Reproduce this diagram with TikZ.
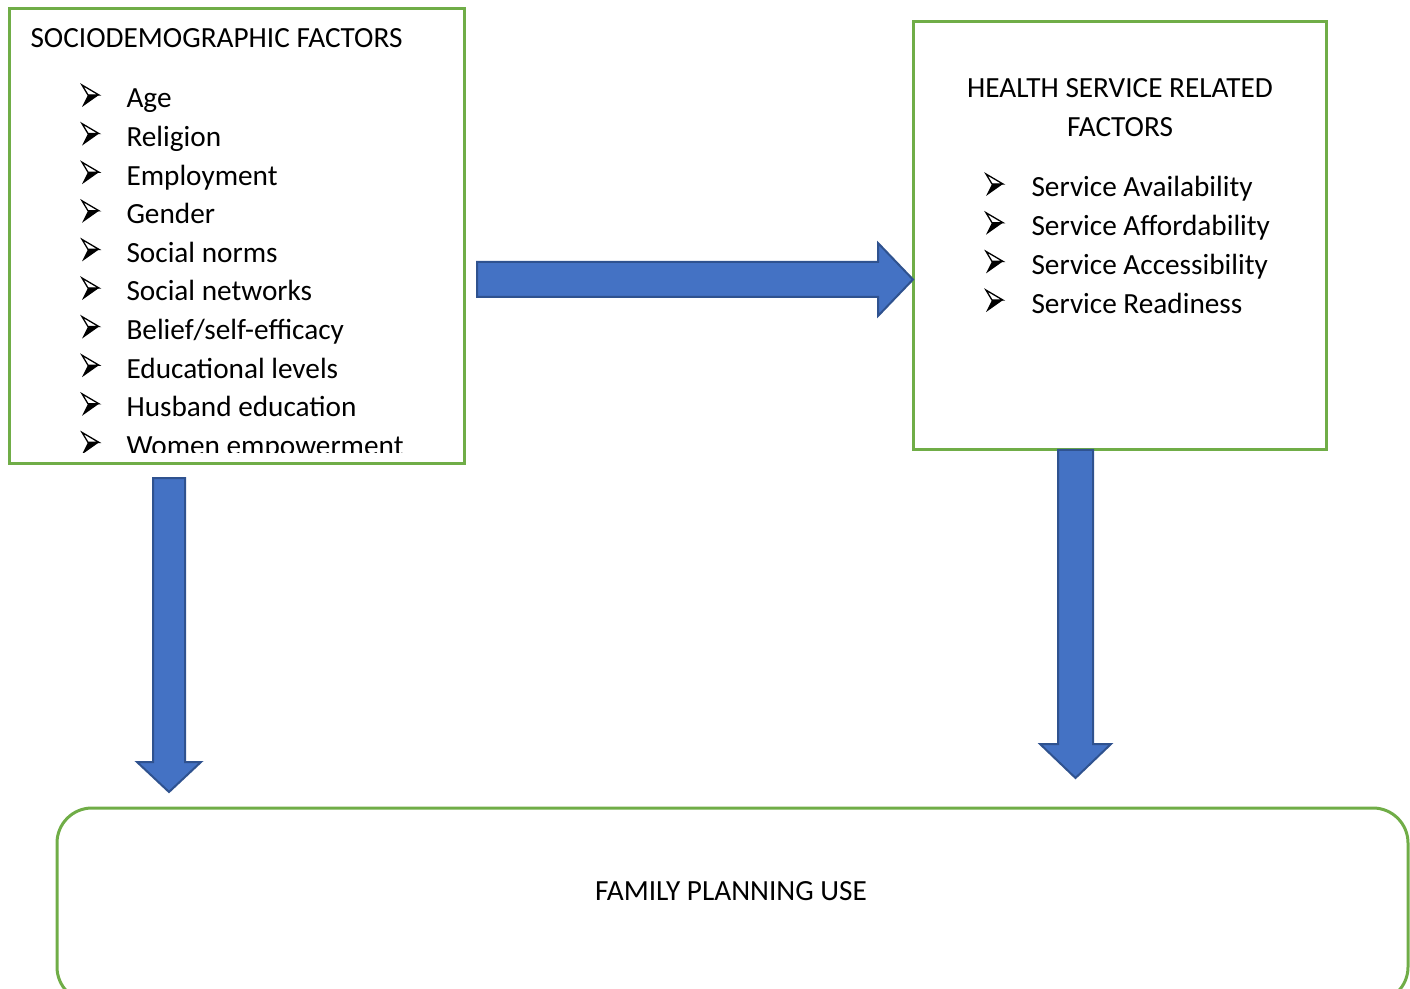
\documentclass[tikz,border=0pt]{standalone}
\usepackage{fontspec}
\setmainfont{Carlito}

% one pixel of the layout grid
\newlength\unitpx
\setlength\unitpx{0.376pt}

\definecolor{boxgreen}{HTML}{70AD47}
\definecolor{arrowblue}{HTML}{4472C4}
\definecolor{arrowedge}{HTML}{2F528F}

\tikzset{
  greenbox/.style={draw=boxgreen, line width=3\unitpx, inner sep=0pt},
  label/.style={font=\fontsize{11}{13}\selectfont, inner sep=0pt},
  item/.style={label, anchor=base west},
  blockarrow/.style={fill=arrowblue, draw=arrowedge, line width=2\unitpx, line join=miter},
  % list bullet, origin on the baseline at its left edge
  bulletarrow/.pic={
    \fill[black] (6,-13) -- (17,-13) -- (0,-1) -- cycle;
    \draw[black, line width=1.3\unitpx, line join=miter] (0,-23) -- (17,-13) -- (6,-13) -- cycle;
  },
}

\begin{document}
\begin{tikzpicture}[x=\unitpx, y=-\unitpx]
  \clip (0,0) rectangle (1410,989);

  % boxes
  \node[greenbox, minimum width=455\unitpx, minimum height=455\unitpx] (sd) at (236.5,236.5) {};
  \node[greenbox, minimum width=413\unitpx, minimum height=428\unitpx] (hs) at (1119.5,236) {};
  \node[greenbox, rounded corners=35\unitpx, minimum width=1351\unitpx, minimum height=194\unitpx] (fp) at (732.5,905) {};

  % sociodemographic factors
  \node[label, anchor=base west] (sdhead) at (30,48) {SOCIODEMOGRAPHIC FACTORS};
  \begin{scope}
    \clip (9,9) rectangle (464,453);
    \foreach \txt [count=\i] in {Age,Religion,Employment,Gender,Social norms,Social networks,Belief/self-efficacy,Educational levels,Husband education,Women empowerment}{
      \pic (sdb\i) at (82,108+38.6*\i-38.6) {bulletarrow};
      \node[item] (sd\i) at (126,108+38.6*\i-38.6) {\txt};
    }
  \end{scope}

  % health service factors
  \node[label, anchor=base] (hshead1) at (1120,98) {HEALTH SERVICE RELATED};
  \node[label, anchor=base] (hshead2) at (1120,137) {FACTORS};
  \foreach \txt [count=\i] in {Service Availability,Service Affordability,Service Accessibility,Service Readiness}{
    \pic (hsb\i) at (986,197+38.7*\i-38.7) {bulletarrow};
    \node[item] (hs\i) at (1031,197+38.7*\i-38.7) {\txt};
  }

  % outcome
  \node[label, anchor=base] (fptext) at (731,900) {FAMILY PLANNING USE};

  % block arrows
  \coordinate (a1s) at (477,279.5);
  \coordinate (a1e) at (913,279.5);
  \coordinate (a2s) at (169,478);
  \coordinate (a2e) at (169,792);
  \coordinate (a3s) at (1075.5,450);
  \coordinate (a3e) at (1075.5,778);

  \draw[blockarrow] (a1s) ++(0,-17.5) -- ++(401,0) -- ++(0,-19) -- (a1e)
    -- ++(-35,36.5) -- ++(0,-19) -- ++(-401,0) -- cycle;
  \draw[blockarrow] (a2s) ++(-16,0) -- ++(0,284) -- ++(-16,0) -- (a2e)
    -- ++(32,-30) -- ++(-16,0) -- ++(0,-284) -- cycle;
  \draw[blockarrow] (a3s) ++(-17.5,0) -- ++(0,294) -- ++(-18,0) -- (a3e)
    -- ++(35.5,-34) -- ++(-18,0) -- ++(0,-294) -- cycle;
\end{tikzpicture}
\end{document}
